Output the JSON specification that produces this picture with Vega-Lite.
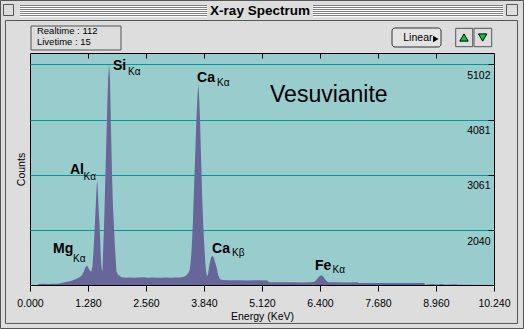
{
  "$schema": "https://vega.github.io/schema/vega-lite/v6.json",
  "width": 464,
  "height": 232,
  "autosize": "none",
  "padding": {"left": 30, "top": 53, "right": 30, "bottom": 44},
  "background": "#dddddd",
  "config": {
    "font": "Liberation Sans",
    "view": {"fill": "#99cccc", "stroke": "#000000", "strokeWidth": 1}
  },
  "datasets": {
    "spectrum": [
      {"E": 0.17, "C": 1025}, {"E": 0.19, "C": 1044}, {"E": 0.3, "C": 1046}, {"E": 0.4, "C": 1044},
      {"E": 0.5, "C": 1048}, {"E": 0.6, "C": 1050}, {"E": 0.7, "C": 1062}, {"E": 0.8, "C": 1080},
      {"E": 0.9, "C": 1100}, {"E": 1.0, "C": 1130}, {"E": 1.05, "C": 1150}, {"E": 1.1, "C": 1175},
      {"E": 1.15, "C": 1210}, {"E": 1.19, "C": 1280}, {"E": 1.22, "C": 1345}, {"E": 1.25, "C": 1380},
      {"E": 1.27, "C": 1370}, {"E": 1.3, "C": 1320}, {"E": 1.33, "C": 1285}, {"E": 1.355, "C": 1275},
      {"E": 1.38, "C": 1380}, {"E": 1.4, "C": 1650}, {"E": 1.42, "C": 1950}, {"E": 1.44, "C": 2300},
      {"E": 1.46, "C": 2650}, {"E": 1.475, "C": 2900}, {"E": 1.487, "C": 2935}, {"E": 1.5, "C": 2700},
      {"E": 1.52, "C": 2350}, {"E": 1.538, "C": 2080}, {"E": 1.56, "C": 1600}, {"E": 1.575, "C": 1380},
      {"E": 1.59, "C": 1280}, {"E": 1.6, "C": 1300}, {"E": 1.611, "C": 1590}, {"E": 1.633, "C": 2080},
      {"E": 1.65, "C": 2600}, {"E": 1.664, "C": 3060}, {"E": 1.685, "C": 3700}, {"E": 1.705, "C": 4300},
      {"E": 1.725, "C": 4850}, {"E": 1.745, "C": 5110}, {"E": 1.765, "C": 4850}, {"E": 1.785, "C": 4000},
      {"E": 1.81, "C": 3060}, {"E": 1.83, "C": 2500}, {"E": 1.854, "C": 2080}, {"E": 1.87, "C": 1800},
      {"E": 1.885, "C": 1590}, {"E": 1.907, "C": 1280}, {"E": 1.94, "C": 1220}, {"E": 1.98, "C": 1190},
      {"E": 2.02, "C": 1166}, {"E": 2.1, "C": 1160}, {"E": 2.2, "C": 1165}, {"E": 2.3, "C": 1158},
      {"E": 2.4, "C": 1162}, {"E": 2.5, "C": 1170}, {"E": 2.6, "C": 1158}, {"E": 2.7, "C": 1163},
      {"E": 2.8, "C": 1160}, {"E": 2.9, "C": 1157}, {"E": 3.0, "C": 1162}, {"E": 3.1, "C": 1158},
      {"E": 3.2, "C": 1162}, {"E": 3.3, "C": 1165}, {"E": 3.38, "C": 1172}, {"E": 3.44, "C": 1195},
      {"E": 3.49, "C": 1240}, {"E": 3.525, "C": 1308}, {"E": 3.545, "C": 1450}, {"E": 3.562, "C": 1621},
      {"E": 3.58, "C": 1900}, {"E": 3.597, "C": 2230}, {"E": 3.615, "C": 2700}, {"E": 3.635, "C": 3152},
      {"E": 3.655, "C": 3650}, {"E": 3.672, "C": 4075}, {"E": 3.695, "C": 4500}, {"E": 3.717, "C": 4740},
      {"E": 3.735, "C": 4450}, {"E": 3.752, "C": 4075}, {"E": 3.768, "C": 3600}, {"E": 3.783, "C": 3152},
      {"E": 3.8, "C": 2650}, {"E": 3.818, "C": 2230}, {"E": 3.837, "C": 1900}, {"E": 3.856, "C": 1621},
      {"E": 3.87, "C": 1420}, {"E": 3.885, "C": 1280}, {"E": 3.91, "C": 1180}, {"E": 3.93, "C": 1230},
      {"E": 3.95, "C": 1345}, {"E": 3.975, "C": 1460}, {"E": 4.0, "C": 1540}, {"E": 4.032, "C": 1566},
      {"E": 4.06, "C": 1520}, {"E": 4.09, "C": 1430}, {"E": 4.12, "C": 1345}, {"E": 4.15, "C": 1220},
      {"E": 4.19, "C": 1135}, {"E": 4.25, "C": 1118}, {"E": 4.4, "C": 1112}, {"E": 4.6, "C": 1115},
      {"E": 4.8, "C": 1110}, {"E": 5.0, "C": 1112}, {"E": 5.24, "C": 1108}, {"E": 5.27, "C": 1075},
      {"E": 5.5, "C": 1074}, {"E": 5.8, "C": 1078}, {"E": 6.0, "C": 1073}, {"E": 6.2, "C": 1075},
      {"E": 6.28, "C": 1085}, {"E": 6.33, "C": 1130}, {"E": 6.38, "C": 1180}, {"E": 6.43, "C": 1205},
      {"E": 6.48, "C": 1175}, {"E": 6.53, "C": 1110}, {"E": 6.58, "C": 1078}, {"E": 6.7, "C": 1074},
      {"E": 7.0, "C": 1072}, {"E": 7.22, "C": 1074}, {"E": 7.25, "C": 1062}, {"E": 7.6, "C": 1063},
      {"E": 8.0, "C": 1060}, {"E": 8.4, "C": 1062}, {"E": 8.7, "C": 1060}, {"E": 8.72, "C": 1030},
      {"E": 8.9, "C": 1045}, {"E": 8.95, "C": 1030}, {"E": 9.1, "C": 1042}, {"E": 9.15, "C": 1030},
      {"E": 9.4, "C": 1040}, {"E": 9.45, "C": 1028}, {"E": 10.24, "C": 1025}
    ],
    "mainLabels": [
      {"label": "Si", "E": 1.832, "C": 4996},
      {"label": "Ca", "E": 3.686, "C": 4774},
      {"label": "Al", "E": 0.883, "C": 3075},
      {"label": "Mg", "E": 0.508, "C": 1616},
      {"label": "Ca", "E": 4.017, "C": 1616},
      {"label": "Fe", "E": 6.29, "C": 1302}
    ],
    "subLabels": [
      {"label": "Kα", "E": 2.163, "C": 4904},
      {"label": "Kα", "E": 4.127, "C": 4700},
      {"label": "Kα", "E": 1.181, "C": 2964},
      {"label": "Kα", "E": 0.949, "C": 1450},
      {"label": "Kβ", "E": 4.458, "C": 1561},
      {"label": "Kα", "E": 6.676, "C": 1247}
    ],
    "sample": [{"label": "Vesuvianite", "E": 5.297, "C": 4414}],
    "windowTitle": [{"label": "X-ray Spectrum", "E": 5.076, "C": 6003}],
    "frames": [
      {"part": "outer", "x1": -0.651, "x2": 10.891, "y1": 6279.7, "y2": 221.5},
      {"part": "inner", "x1": -0.541, "x2": 10.759, "y1": 5910.3, "y2": 314.9},
      {"part": "close", "x1": -0.585, "x2": -0.364, "y1": 6205.8, "y2": 6002.6},
      {"part": "zoom", "x1": 10.516, "x2": 10.759, "y1": 6205.8, "y2": 6002.6},
      {"part": "info", "x1": 0.022, "x2": 2.008, "y1": 5808.7, "y2": 5365.4},
      {"part": "up", "x1": 9.395, "x2": 9.77, "y1": 5766.2, "y2": 5426.4},
      {"part": "down", "x1": 9.799, "x2": 10.189, "y1": 5766.2, "y2": 5426.4}
    ],
    "button": [{"x1": 7.989, "x2": 9.071, "y1": 5771.8, "y2": 5420.8}],
    "stripes": [
      {"x1": -0.221, "x2": 3.906, "C": 6187.3, "tone": "dark"},
      {"x1": -0.221, "x2": 3.906, "C": 6150.4, "tone": "dark"},
      {"x1": -0.221, "x2": 3.906, "C": 6113.4, "tone": "dark"},
      {"x1": -0.221, "x2": 3.906, "C": 6076.5, "tone": "dark"},
      {"x1": -0.221, "x2": 3.906, "C": 6039.6, "tone": "dark"},
      {"x1": -0.221, "x2": 3.906, "C": 6002.6, "tone": "dark"},
      {"x1": 6.246, "x2": 10.439, "C": 6187.3, "tone": "dark"},
      {"x1": 6.246, "x2": 10.439, "C": 6150.4, "tone": "dark"},
      {"x1": 6.246, "x2": 10.439, "C": 6113.4, "tone": "dark"},
      {"x1": 6.246, "x2": 10.439, "C": 6076.5, "tone": "dark"},
      {"x1": 6.246, "x2": 10.439, "C": 6039.6, "tone": "dark"},
      {"x1": 6.246, "x2": 10.439, "C": 6002.6, "tone": "dark"},
      {"x1": -0.221, "x2": 3.906, "C": 6168.8, "tone": "light"},
      {"x1": -0.221, "x2": 3.906, "C": 6131.9, "tone": "light"},
      {"x1": -0.221, "x2": 3.906, "C": 6095.0, "tone": "light"},
      {"x1": -0.221, "x2": 3.906, "C": 6058.0, "tone": "light"},
      {"x1": -0.221, "x2": 3.906, "C": 6021.1, "tone": "light"},
      {"x1": -0.221, "x2": 3.906, "C": 5984.2, "tone": "light"},
      {"x1": 6.246, "x2": 10.439, "C": 6168.8, "tone": "light"},
      {"x1": 6.246, "x2": 10.439, "C": 6131.9, "tone": "light"},
      {"x1": 6.246, "x2": 10.439, "C": 6095.0, "tone": "light"},
      {"x1": 6.246, "x2": 10.439, "C": 6058.0, "tone": "light"},
      {"x1": 6.246, "x2": 10.439, "C": 6021.1, "tone": "light"},
      {"x1": 6.246, "x2": 10.439, "C": 5984.2, "tone": "light"}
    ],
    "info": [
      {"label": "Realtime : 112", "E": 0.154, "C": 5712},
      {"label": "Livetime : 15", "E": 0.154, "C": 5520}
    ],
    "buttonText": [{"label": "Linear", "E": 8.238, "C": 5587}],
    "buttonArrow": [{"E": 8.955, "C": 5569}],
    "upArrow": [{"E": 9.578, "C": 5596}],
    "downArrow": [{"E": 9.99, "C": 5596}]
  },
  "resolve": {"axis": {"x": "independent", "y": "independent"}},
  "layer": [
    {
      "data": {"name": "frames"},
      "mark": {"type": "rect", "fill": "#dddddd", "stroke": "#555555", "strokeWidth": 1, "fillOpacity": 0},
      "encoding": {
        "x": {"field": "x1", "type": "quantitative", "scale": {"domain": [0, 10.24], "nice": false, "zero": false}, "axis": null},
        "x2": {"field": "x2"},
        "y": {"field": "y1", "type": "quantitative", "scale": {"domain": [1025, 5310], "nice": false, "zero": false}, "axis": null},
        "y2": {"field": "y2"}
      }
    },
    {
      "data": {"name": "stripes"},
      "mark": {"type": "rule", "strokeWidth": 1},
      "encoding": {
        "x": {"field": "x1", "type": "quantitative", "scale": {"domain": [0, 10.24], "nice": false, "zero": false}, "axis": null},
        "x2": {"field": "x2"},
        "y": {"field": "C", "type": "quantitative", "scale": {"domain": [1025, 5310], "nice": false, "zero": false}, "axis": null},
        "color": {"field": "tone", "type": "nominal", "scale": {"domain": ["dark", "light"], "range": ["#808080", "#ffffff"]}, "legend": null}
      }
    },
    {
      "data": {"name": "windowTitle"},
      "mark": {"type": "text", "align": "center", "baseline": "alphabetic", "fontSize": 13.5, "fontWeight": "bold", "color": "#000000"},
      "encoding": {
        "x": {"field": "E", "type": "quantitative", "scale": {"domain": [0, 10.24], "nice": false, "zero": false}, "axis": null},
        "y": {"field": "C", "type": "quantitative", "scale": {"domain": [1025, 5310], "nice": false, "zero": false}, "axis": null},
        "text": {"field": "label"}
      }
    },
    {
      "data": {"name": "button"},
      "mark": {"type": "rect", "fill": "#e4e4e4", "stroke": "#333333", "strokeWidth": 1, "cornerRadius": 3},
      "encoding": {
        "x": {"field": "x1", "type": "quantitative", "scale": {"domain": [0, 10.24], "nice": false, "zero": false}, "axis": null},
        "x2": {"field": "x2"},
        "y": {"field": "y1", "type": "quantitative", "scale": {"domain": [1025, 5310], "nice": false, "zero": false}, "axis": null},
        "y2": {"field": "y2"}
      }
    },
    {
      "data": {"name": "info"},
      "mark": {"type": "text", "align": "left", "baseline": "middle", "fontSize": 9.5, "color": "#000000"},
      "encoding": {
        "x": {"field": "E", "type": "quantitative", "scale": {"domain": [0, 10.24], "nice": false, "zero": false}, "axis": null},
        "y": {"field": "C", "type": "quantitative", "scale": {"domain": [1025, 5310], "nice": false, "zero": false}, "axis": null},
        "text": {"field": "label"}
      }
    },
    {
      "data": {"name": "buttonText"},
      "mark": {"type": "text", "align": "left", "baseline": "middle", "fontSize": 10.5, "color": "#000000"},
      "encoding": {
        "x": {"field": "E", "type": "quantitative", "scale": {"domain": [0, 10.24], "nice": false, "zero": false}, "axis": null},
        "y": {"field": "C", "type": "quantitative", "scale": {"domain": [1025, 5310], "nice": false, "zero": false}, "axis": null},
        "text": {"field": "label"}
      }
    },
    {
      "data": {"name": "buttonArrow"},
      "mark": {"type": "point", "shape": "triangle-right", "filled": true, "color": "#000000", "size": 40, "opacity": 1},
      "encoding": {
        "x": {"field": "E", "type": "quantitative", "scale": {"domain": [0, 10.24], "nice": false, "zero": false}, "axis": null},
        "y": {"field": "C", "type": "quantitative", "scale": {"domain": [1025, 5310], "nice": false, "zero": false}, "axis": null}
      }
    },
    {
      "data": {"name": "upArrow"},
      "mark": {"type": "point", "shape": "triangle-up", "filled": true, "fill": "#00cc33", "stroke": "#000000", "strokeWidth": 1, "size": 70, "opacity": 1},
      "encoding": {
        "x": {"field": "E", "type": "quantitative", "scale": {"domain": [0, 10.24], "nice": false, "zero": false}, "axis": null},
        "y": {"field": "C", "type": "quantitative", "scale": {"domain": [1025, 5310], "nice": false, "zero": false}, "axis": null}
      }
    },
    {
      "data": {"name": "downArrow"},
      "mark": {"type": "point", "shape": "triangle-down", "filled": true, "fill": "#00cc33", "stroke": "#000000", "strokeWidth": 1, "size": 70, "opacity": 1},
      "encoding": {
        "x": {"field": "E", "type": "quantitative", "scale": {"domain": [0, 10.24], "nice": false, "zero": false}, "axis": null},
        "y": {"field": "C", "type": "quantitative", "scale": {"domain": [1025, 5310], "nice": false, "zero": false}, "axis": null}
      }
    },
    {
      "data": {"name": "spectrum"},
      "mark": {"type": "area", "color": "#666699", "interpolate": "linear", "opacity": 1},
      "encoding": {
        "x": {
          "field": "E", "type": "quantitative",
          "scale": {"domain": [0, 10.24], "nice": false, "zero": false},
          "axis": {
            "orient": "bottom",
            "values": [0, 1.28, 2.56, 3.84, 5.12, 6.4, 7.68, 8.96, 10.24],
            "format": ".3f",
            "grid": false,
            "domain": false,
            "ticks": true,
            "tickSize": 6,
            "tickColor": "#000000",
            "labelFlush": false,
            "labelOverlap": false,
            "labelFontSize": 10.5,
            "labelColor": "#000000",
            "labelPadding": 7,
            "title": "Energy (KeV)",
            "titleFontSize": 10.5,
            "titleFontWeight": "normal",
            "titleColor": "#000000",
            "titlePadding": 3
          }
        },
        "y": {
          "field": "C", "type": "quantitative",
          "scale": {"domain": [1025, 5310], "nice": false, "zero": false},
          "axis": {
            "orient": "right",
            "values": [2040, 3061, 4081, 5102],
            "format": "d",
            "grid": true,
            "gridColor": "#009999",
            "gridOpacity": 1,
            "gridWidth": 1,
            "domain": false,
            "ticks": true,
            "tickSize": -6,
            "tickColor": "#000000",
            "tickOpacity": 0,
            "labelAlign": "right",
            "labelBaseline": "middle",
            "labelPadding": 2,
            "labelOffset": 11,
            "labelFontSize": 10.5,
            "labelColor": "#000000",
            "title": null
          }
        },
        "y2": {"datum": 1025}
      }
    },
    {
      "data": {"name": "mainLabels"},
      "mark": {"type": "text", "align": "left", "baseline": "alphabetic", "fontSize": 14, "fontWeight": "bold", "color": "#000000"},
      "encoding": {
        "x": {
          "field": "E", "type": "quantitative",
          "scale": {"domain": [0, 10.24], "nice": false, "zero": false},
          "axis": {
            "orient": "top",
            "offset": -5,
            "values": [1.28, 2.56, 3.84, 5.12, 6.4, 7.68, 8.96],
            "labels": false,
            "grid": false,
            "domain": false,
            "ticks": true,
            "tickSize": 5,
            "tickColor": "#000000",
            "title": null
          }
        },
        "y": {
          "field": "C", "type": "quantitative",
          "scale": {"domain": [1025, 5310], "nice": false, "zero": false},
          "axis": {
            "orient": "left",
            "labels": false,
            "ticks": false,
            "grid": false,
            "domain": false,
            "title": "Counts",
            "titleFontSize": 10.5,
            "titleFontWeight": "normal",
            "titleColor": "#000000",
            "titlePadding": 4
          }
        },
        "text": {"field": "label"}
      }
    },
    {
      "data": {"name": "subLabels"},
      "mark": {"type": "text", "align": "left", "baseline": "alphabetic", "fontSize": 10, "color": "#000000"},
      "encoding": {
        "x": {"field": "E", "type": "quantitative", "scale": {"domain": [0, 10.24], "nice": false, "zero": false}, "axis": null},
        "y": {
          "field": "C", "type": "quantitative",
          "scale": {"domain": [1025, 5310], "nice": false, "zero": false},
          "axis": {
            "orient": "right",
            "offset": -6,
            "values": [2040, 3061, 4081, 5102],
            "labels": false,
            "grid": false,
            "domain": false,
            "ticks": true,
            "tickSize": 6,
            "tickColor": "#000000",
            "title": null
          }
        },
        "text": {"field": "label"}
      }
    },
    {
      "data": {"name": "sample"},
      "mark": {"type": "text", "align": "left", "baseline": "alphabetic", "fontSize": 23, "color": "#000000"},
      "encoding": {
        "x": {"field": "E", "type": "quantitative", "scale": {"domain": [0, 10.24], "nice": false, "zero": false}, "axis": null},
        "y": {"field": "C", "type": "quantitative", "scale": {"domain": [1025, 5310], "nice": false, "zero": false}, "axis": null},
        "text": {"field": "label"}
      }
    }
  ]
}
